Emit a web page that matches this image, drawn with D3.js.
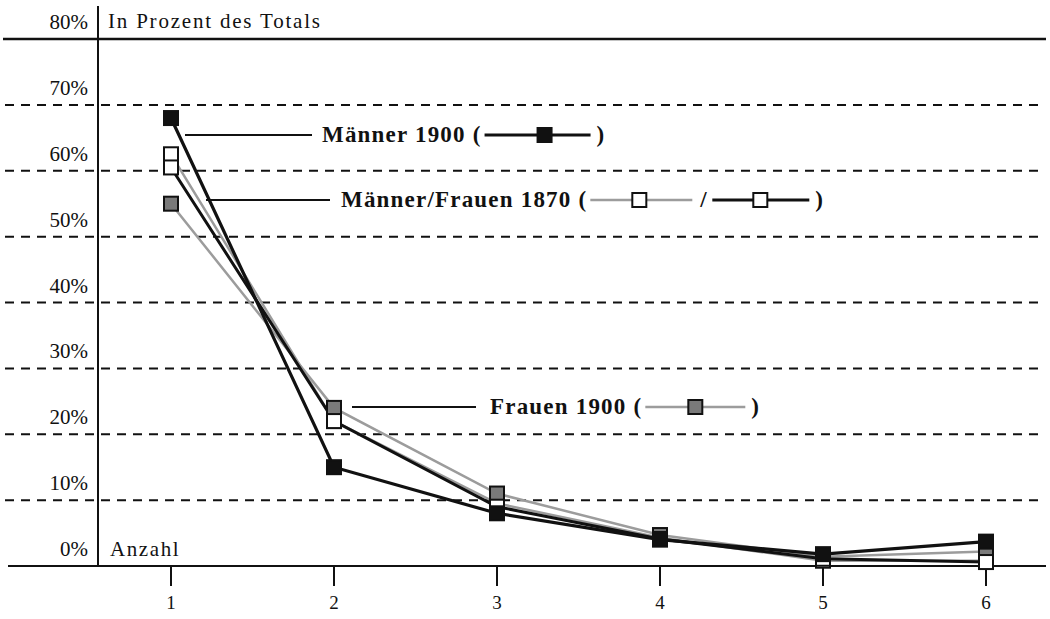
<!DOCTYPE html>
<html>
<head>
<meta charset="utf-8">
<script src="https://cdn.jsdelivr.net/npm/d3@7"></script>
<style>
  body { margin: 0; background: #fff; }
  text { font-family: "Liberation Serif", "DejaVu Serif", serif; fill: #111; }
</style>
</head>
<body>
<div id="chart"></div>
<script>
// Anzahl (x categories)
const anzahl = [1, 2, 3, 4, 5, 6]
// percentages
const maenner1900 = [68, 15, 8, 4, 1.8, 3.7]
const frauen1900  = [55, 24, 11, 4.7, 1.4, 2.2]
const maenner1870 = [62.5, 22, 9.5, 4.3, 0.8, 0.8]
const frauen1870  = [60.5, 22, 9, 4.1, 1.1, 0.6]
const yTicks = [0, 10, 20, 30, 40, 50, 60, 70, 80]

const width = 1050, height = 619

const svg = d3.select("#chart")
    .append("svg")
    .attr("width", width)
    .attr("height", height)

const x = d3.scaleLinear().domain([1, 6]).range([171, 986])
const y = d3.scaleLinear().domain([0, 80]).range([566, 39])

const grey = "#9c9c9c"

// dashed gridlines (solid at top and bottom)
svg.append("g")
    .selectAll("line")
    .data(yTicks.filter(d => d > 0 && d < 80))
    .join("line")
    .attr("x1", 5).attr("x2", 1045)
    .attr("y1", d => y(d)).attr("y2", d => y(d))
    .attr("stroke", "#111")
    .attr("stroke-width", 2)
    .attr("stroke-dasharray", "9,7")

svg.append("line")
    .attr("x1", 3).attr("x2", 1046)
    .attr("y1", y(80)).attr("y2", y(80))
    .attr("stroke", "#111").attr("stroke-width", 2.5)

svg.append("line")
    .attr("x1", 8).attr("x2", 1046)
    .attr("y1", y(0)).attr("y2", y(0))
    .attr("stroke", "#111").attr("stroke-width", 2)

// vertical axis
svg.append("line")
    .attr("x1", 98).attr("x2", 98)
    .attr("y1", 6).attr("y2", y(0))
    .attr("stroke", "#111").attr("stroke-width", 2)

// y labels
svg.append("g")
    .selectAll("text")
    .data(yTicks)
    .join("text")
    .attr("x", 88)
    .attr("y", d => y(d) - 10)
    .attr("text-anchor", "end")
    .style("font-size", "21px")
    .text(d => d + "%")

svg.append("text")
    .attr("x", 108).attr("y", y(80) - 11)
    .style("font-size", "21px")
    .style("letter-spacing", "1.8px")
    .text("In Prozent des Totals")

svg.append("text")
    .attr("x", 110).attr("y", y(0) - 10)
    .style("font-size", "21px")
    .style("letter-spacing", "1.6px")
    .text("Anzahl")

// x ticks + labels
const xt = svg.append("g")
    .selectAll("g")
    .data(anzahl)
    .join("g")
    .attr("transform", d => `translate(${x(d)},0)`)

xt.append("line")
    .attr("y1", y(0)).attr("y2", y(0) + 20)
    .attr("stroke", "#111").attr("stroke-width", 2)

xt.append("text")
    .attr("y", 609)
    .attr("text-anchor", "middle")
    .style("font-size", "19px")
    .text(d => d)

// series
const series = [
    { name: "maenner1870", values: maenner1870, line: grey, lw: 2.5, fill: "#fff" },
    { name: "frauen1900",  values: frauen1900,  line: grey, lw: 2.5, fill: "#7a7a7a" },
    { name: "frauen1870",  values: frauen1870,  line: "#111", lw: 3, fill: "#fff" },
    { name: "maenner1900", values: maenner1900, line: "#111", lw: 3.2, fill: "#111" }
]

const line = d3.line()
    .x((d, i) => x(anzahl[i]))
    .y(d => y(d))

svg.append("g")
    .selectAll("path")
    .data(series)
    .join("path")
    .attr("d", d => line(d.values))
    .attr("fill", "none")
    .attr("stroke", d => d.line)
    .attr("stroke-width", d => d.lw)

const sq = 14
series.forEach(s => {
    svg.append("g")
        .selectAll("rect")
        .data(s.values)
        .join("rect")
        .attr("x", (d, i) => x(anzahl[i]) - sq / 2)
        .attr("y", d => y(d) - sq / 2)
        .attr("width", sq).attr("height", sq)
        .attr("fill", s.fill)
        .attr("stroke", "#111")
        .attr("stroke-width", 2)
})

// legend with leader lines
function sample(g, x0, x1, xs, col, lw, fill, yy) {
    g.append("line")
        .attr("x1", x0).attr("x2", x1)
        .attr("y1", yy).attr("y2", yy)
        .attr("stroke", col).attr("stroke-width", lw)
    g.append("rect")
        .attr("x", xs - sq / 2).attr("y", yy - sq / 2)
        .attr("width", sq).attr("height", sq)
        .attr("fill", fill).attr("stroke", "#111").attr("stroke-width", 2)
}

function boldText(g, tx, yy, s) {
    return g.append("text")
        .attr("x", tx).attr("y", yy + 7)
        .style("font-size", "23px")
        .style("font-weight", "bold")
        .style("letter-spacing", "1.2px")
        .text(s)
}

function legend(label, leader, tx, yy, parts) {
    const g = svg.append("g")
    g.append("line")
        .attr("x1", leader[0]).attr("x2", leader[1])
        .attr("y1", yy).attr("y2", yy)
        .attr("stroke", "#111").attr("stroke-width", 2)
    const t = boldText(g, tx, yy, label + " (")
    let cx = tx + t.node().getComputedTextLength() + 3
    parts.forEach(p => {
        if (p.sep) {
            boldText(g, cx + 2, yy, p.sep)
            cx += 14
            return
        }
        sample(g, cx, cx + p.len, cx + p.at, p.col, p.lw, p.fill, yy)
        cx += p.len + 6
    })
    boldText(g, cx, yy, ")")
}

legend("Männer 1900", [185, 312], 322, 135,
    [{ len: 106, at: 60, col: "#111", lw: 3, fill: "#111" }])
legend("Männer/Frauen 1870", [206, 330], 341, 200,
    [{ len: 102, at: 49, col: grey, lw: 2.5, fill: "#fff" },
     { sep: "/" },
     { len: 97, at: 48, col: "#111", lw: 3, fill: "#fff" }])
legend("Frauen 1900", [352, 476], 490, 407,
    [{ len: 100, at: 50, col: grey, lw: 2.5, fill: "#7a7a7a" }])
</script>
</body>
</html>
